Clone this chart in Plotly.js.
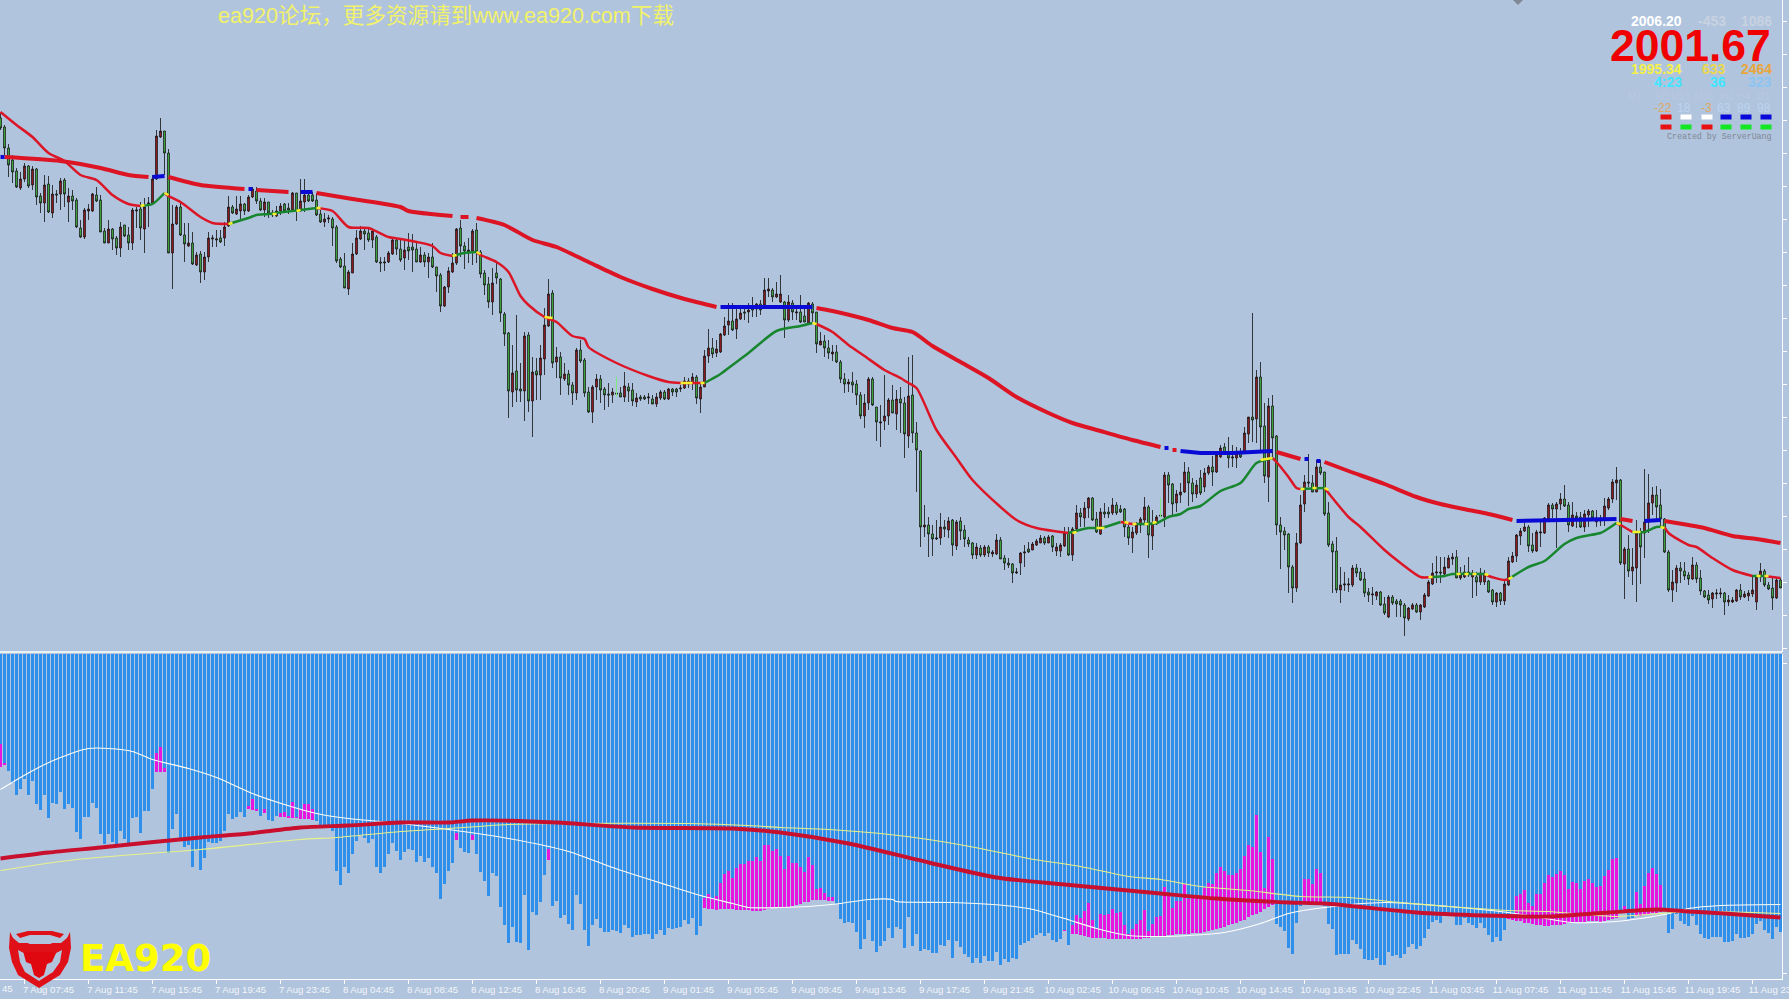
<!DOCTYPE html>
<html><head><meta charset="utf-8">
<script src="https://cdn.plot.ly/plotly-3.0.1.min.js"></script>
<style>html,body{margin:0;padding:0;background:#b0c4de;overflow:hidden}#c{width:1789px;height:999px}</style>
</head><body><div id="c"></div>
<script>
const open_ = [
582,573,552,540,529,512,521,534,515,531,
504,497,516,487,506,506,520,498,504,500,
472,463,489,489,505,500,469,457,471,462,
452,475,465,457,489,491,471,496,497,521,
563,569,547,447,476,493,465,454,457,435,
446,428,443,461,460,462,462,474,493,486,
489,496,489,503,509,499,490,498,487,484,
489,496,492,490,507,489,498,505,505,500,
486,478,481,481,473,441,434,411,427,446,
461,469,467,460,463,438,437,438,446,460,
451,442,453,453,451,438,445,438,443,433,
425,394,413,428,437,472,454,448,449,470,
448,427,416,398,427,421,386,367,308,329,
311,309,365,299,329,325,341,374,407,338,
343,321,326,315,307,350,340,308,288,313,
321,311,306,305,307,307,303,313,310,298,
303,303,302,301,296,302,308,301,311,311,
311,312,319,317,323,301,313,344,352,347,
348,365,375,379,371,381,388,388,392,391,
396,395,409,410,403,398,398,380,397,387,
388,384,377,396,388,355,359,352,346,348,
338,321,316,318,316,305,284,297,321,293,
277,279,284,300,286,301,297,264,305,267,
249,173,175,166,161,162,173,170,180,154,
179,170,160,157,145,152,145,153,146,146,
160,142,137,136,127,137,147,151,150,155,
157,162,157,164,149,149,154,167,145,171,
187,182,192,202,181,166,188,188,187,195,
191,191,173,162,167,175,180,193,164,176,
185,183,225,216,197,205,208,228,217,206,
222,213,227,233,228,243,253,247,242,242,
248,248,266,283,281,323,274,223,294,264,
175,169,166,133,112,157,196,218,217,208,
233,228,187,156,149,110,115,115,115,132,
128,121,108,105,104,108,96,83,103,99,
99,95,81,91,95,88,93,104,116,127,
128,126,132,141,143,122,123,128,123,123,
118,118,119,110,98,107,99,115,138,144,
164,169,173,155,149,167,167,181,195,191,
196,201,195,174,184,183,173,185,189,178,
182,180,192,201,217,220,136,151,129,132,
167,167,178,197,205,195,181,148,110,117,
132,129,125,121,135,122,109,105,101,106,
106,107,98,98,99,110,103,104,106,98,
123,129,115,112,102,120];
const high = [
587,575,556,545,532,528,537,535,534,532,
507,525,524,515,510,522,522,512,510,502,
480,492,496,507,513,505,472,480,472,464,
478,475,473,492,493,498,502,503,525,570,
582,569,551,495,495,497,477,477,468,448,
449,448,468,465,470,470,478,504,495,504,
504,497,505,513,513,502,502,498,490,494,
497,497,497,508,507,521,521,507,508,507,
490,487,485,483,475,443,447,430,457,470,
474,473,472,472,465,443,443,449,462,462,
460,461,467,466,458,453,448,447,457,433,
427,414,433,447,472,480,458,462,471,477,
450,430,423,432,437,422,388,368,355,385,
337,368,368,343,342,355,392,421,410,353,
348,337,330,318,352,360,342,313,315,326,
325,313,317,312,323,313,328,317,317,307,
305,305,307,305,307,310,310,312,312,312,
315,323,322,327,325,317,350,371,362,360,
367,383,397,397,392,395,392,397,403,397,
400,422,422,412,418,425,399,405,400,395,
405,395,398,398,388,368,365,360,355,355,
340,327,321,328,320,308,306,323,323,293,
295,325,302,315,310,313,303,343,345,278,
250,195,183,175,180,187,180,183,181,180,
183,175,163,158,157,155,155,155,150,166,
163,145,142,137,132,148,155,158,158,161,
165,164,165,165,157,157,173,173,173,195,
192,198,203,203,188,192,197,193,202,198,
195,192,175,173,178,183,203,195,190,185,
202,228,228,217,210,217,238,233,222,220,
230,232,235,244,247,255,257,263,255,253,
252,273,283,387,330,338,297,302,305,265,
183,173,167,135,167,205,225,246,225,240,
240,228,198,159,163,133,128,122,135,136,
132,128,112,113,109,109,103,105,105,101,
101,97,93,97,97,96,107,120,137,144,
143,143,145,147,150,133,135,143,130,128,
132,130,120,111,108,108,120,143,148,166,
172,177,175,167,170,178,183,197,197,198,
207,215,198,198,188,188,190,191,190,190,
185,202,203,221,233,221,153,165,152,180,
172,231,226,213,214,211,182,150,130,135,
138,138,128,143,138,130,110,110,108,111,
112,108,105,103,111,116,109,110,125,125,
137,131,118,122,122,122];
const low = [
570,545,523,517,512,510,518,512,510,495,
487,478,487,482,497,490,493,478,490,472,
462,461,480,488,498,468,457,457,450,445,
443,463,450,450,472,460,447,473,496,520,
562,525,447,411,475,464,438,453,435,434,
417,420,438,453,453,457,454,473,486,485,
480,485,488,502,496,489,483,482,483,483,
485,488,486,489,479,488,488,498,498,484,
477,473,477,454,437,432,412,405,427,445,
460,450,458,452,437,428,429,437,445,445,
438,430,440,428,438,437,433,422,432,408,
388,393,407,427,435,443,431,437,435,437,
422,405,392,385,416,378,354,282,293,298,
298,279,288,263,300,300,325,373,332,322,
305,319,305,295,300,337,303,287,277,300,
297,290,293,297,303,303,298,298,294,293,
299,300,296,296,293,300,300,300,304,303,
308,311,312,310,296,287,313,337,342,343,
347,364,365,369,361,380,380,377,383,383,
385,392,403,398,402,397,362,378,380,380,
377,378,377,378,347,355,343,341,339,337,
317,307,308,307,295,281,272,290,294,259,
253,270,275,287,270,267,242,252,257,208,
153,163,143,144,160,155,163,162,144,150,
160,153,153,141,141,143,143,143,143,145,
141,130,132,117,126,125,133,147,150,154,
157,155,157,148,144,143,153,144,139,170,
173,173,182,179,167,165,182,182,185,185,
187,163,155,147,165,167,175,142,150,175,
182,173,197,185,188,197,207,194,198,202,
205,208,225,214,227,242,245,232,233,232,
242,247,257,258,257,247,217,198,243,165,
131,150,107,97,108,156,188,213,208,208,
225,184,153,107,107,97,109,108,113,123,
119,103,98,95,100,94,85,82,95,83,
83,64,79,90,87,80,92,103,115,117,
117,125,132,135,122,120,122,123,102,104,
115,115,107,95,93,95,95,114,137,138,
155,168,148,147,148,153,166,180,182,152,
190,193,168,173,172,172,168,173,180,173,
174,174,190,197,200,135,101,123,115,98,
116,142,167,185,180,172,147,108,98,108,
117,120,115,120,117,105,102,96,92,101,
102,85,94,97,98,100,102,99,103,90,
118,113,110,90,101,112];
const close_ = [
572,552,535,528,513,521,534,514,531,503,
497,515,488,506,505,519,506,504,499,473,
463,490,491,506,499,468,457,471,461,452,
473,464,457,490,490,472,493,497,521,564,
569,547,447,476,493,465,456,457,436,445,
428,443,462,462,461,458,473,493,487,491,
496,489,503,511,499,490,498,487,485,489,
494,489,490,507,489,499,505,499,499,485,
478,481,482,472,439,433,412,428,446,462,
469,466,460,469,438,437,438,447,460,451,
440,450,449,450,438,445,438,443,433,424,
394,413,429,437,471,454,449,450,469,448,
426,415,398,417,422,387,366,309,327,310,
309,364,299,328,325,342,375,406,337,343,
322,326,315,307,350,339,307,288,313,321,
310,305,305,308,306,303,314,309,299,302,
301,301,303,296,303,308,301,311,308,308,
312,319,316,323,302,313,344,352,346,351,
366,374,379,370,381,387,387,390,390,396,
390,410,411,403,406,406,380,398,388,388,
378,378,397,387,356,359,352,347,348,338,
321,316,318,315,305,284,297,321,295,278,
278,284,300,287,301,297,266,304,267,250,
173,175,166,161,162,173,171,179,155,178,
169,161,156,145,153,145,153,147,148,160,
141,137,135,127,128,147,148,148,156,159,
162,157,163,153,153,155,167,145,171,187,
183,192,202,180,168,188,186,186,195,187,
188,173,162,168,175,181,193,165,177,183,
184,225,215,196,206,208,228,217,206,215,
207,227,233,228,245,252,247,242,243,247,
243,267,283,280,323,273,224,294,262,175,
168,165,133,112,157,195,218,217,208,233,
227,186,155,148,110,115,116,116,132,127,
120,107,105,106,108,95,87,103,97,96,
95,82,92,95,88,95,105,118,127,128,
127,133,142,143,122,125,128,125,127,118,
127,127,108,98,107,99,116,139,144,165,
169,173,154,149,168,168,182,195,191,196,
201,194,175,185,182,173,186,189,182,182,
179,194,201,218,220,137,151,129,133,167,
153,178,197,205,193,181,148,110,118,132,
129,124,121,135,121,109,103,100,107,107,
107,98,100,100,110,103,106,107,110,123,
129,115,111,102,120,112];

const slowRedX = [1,15,25,32,37,null,42,50,61,null,64,72,null,79,88,100,102,113,null,115,117,null,119,126,133,139,147,155,163,171,179,null,204,208,217,223,228,233,240,247,254,262,268,275,283,290,null,293,294,null,319,325,null,331,337,346,354,360,367,372,378,null,405,408,null,416,422,426,433,439,445];
const slowRedY = [543,539,532,525,523,null,523,515,511,null,510,508,null,507,501,493,489,484,null,483,483,null,482,475,460,453,438,423,411,401,393,null,392,389,380,372,368,354,338,322,303,287,277,269,260,253,null,250,250,null,248,241,null,238,229,216,203,196,190,186,180,null,181,179,null,179,175,172,164,161,157];
const slowBlueX = [0,1,null,38,41,null,62,63,null,75,78,null,180,203,null,291,292,null,295,300,308,313,318,null,326,327,null,329,330,null,379,404,null,411,415];
const slowBlueY = [543,543,null,523,524,null,511,511,null,508,508,null,393,393,null,252,252,null,249,247,247,248,249,null,241,241,null,239,239,null,179,181,null,179,180];
const fastRedX = [0,4,8,12,16,20,24,28,32,35,null,41,42,45,50,53,57,null,79,83,87,92,97,100,108,110,113,null,119,120,124,127,130,132,136,139,143,146,147,154,162,167,170,176,null,204,208,212,216,221,225,227,229,234,239,243,250,254,259,267,null,280,283,284,null,318,319,322,324,325,null,331,333,337,340,346,350,355,358,null,371,372,376,377,null,404,405,408,null,416,417,422,424,428,433,438,null,441,445];
const fastRedY = [588,575,563,547,539,525,520,505,496,494,null,507,504,498,483,477,476,null,492,489,473,472,463,461,454,447,444,null,448,445,438,428,404,395,383,378,364,361,353,337,324,318,317,317,null,376,368,355,344,330,322,317,312,270,242,220,193,180,172,167,null,178,176,176,null,242,238,223,212,211,null,212,202,183,173,150,137,123,123,null,126,124,120,121,null,177,175,168,null,173,167,155,153,142,130,124,null,124,122];
const fastGreenX = [35,38,41,null,57,62,64,67,73,79,null,113,116,119,null,176,180,183,187,194,200,203,null,267,272,275,280,null,284,289,292,295,297,300,305,310,314,318,null,325,331,null,358,361,363,371,null,377,382,386,391,394,400,401,404,null,408,411,414,416,null,438,441];
const fastGreenY = [494,496,507,null,476,482,485,486,489,492,null,444,447,448,null,317,326,335,347,369,374,377,null,167,172,172,178,null,176,177,183,186,191,194,209,217,237,242,null,211,212,null,123,124,126,126,null,121,133,139,156,162,167,169,177,null,168,168,173,173,null,124,124];
const fastYellowX = [35,36,null,41,42,null,57,58,null,68,69,null,74,75,null,79,80,null,113,114,null,119,120,null,136,138,null,170,173,null,175,176,null,203,204,null,268,269,null,274,276,null,281,282,null,283,284,null,286,287,null,288,289,null,315,318,null,325,326,null,328,329,null,331,332,null,357,358,null,364,365,null,366,367,null,368,369,null,371,372,null,377,378,null,404,405,null,408,410,null,415,416,null,439,440,null,441,442];
const fastYellowY = [494,495,null,507,505,null,476,477,null,486,486,null,489,490,null,492,492,null,444,445,null,448,446,null,383,382,null,317,317,null,317,317,null,377,376,null,167,168,null,172,172,null,178,177,null,176,176,null,176,176,null,177,178,null,240,242,null,211,211,null,212,212,null,212,210,null,123,123,null,126,126,null,126,126,null,126,126,null,126,125,null,121,123,null,177,176,null,168,168,null,173,172,null,124,124,null,124,124];
const flashX = [154,154,null,290,290];
const flashY = [323,303,null,202,182];

const histDepth = [
90,109,117,129,141,135,125,141,127,150,
156,141,164,149,150,138,155,150,154,178,
185,163,163,149,154,180,190,180,188,192,
177,185,190,164,163,179,157,157,135,99,
93,114,199,175,160,185,193,191,213,196,
216,204,188,189,189,187,177,160,165,163,
158,163,152,145,155,162,155,166,167,162,
159,158,162,148,163,155,150,150,155,167,
171,171,171,177,217,231,213,219,200,187,
182,184,189,185,213,219,213,200,189,197,
206,198,195,196,208,202,208,204,213,219,
245,230,217,209,179,194,198,199,181,200,
218,227,242,219,222,253,271,289,273,288,
289,241,296,258,261,248,221,195,252,247,
264,261,270,276,241,250,276,292,271,265,
274,278,278,276,277,279,271,274,283,281,
281,280,280,285,280,276,281,274,275,274,
273,266,270,264,281,272,244,240,244,242,
229,220,217,224,214,210,210,207,207,203,
207,191,191,197,195,202,215,202,209,209,
213,218,203,211,235,234,239,243,243,250,
265,269,268,269,278,295,285,266,287,298,
292,287,274,284,273,275,294,263,292,280,
297,295,296,299,299,291,292,286,304,287,
293,300,303,309,304,309,302,307,307,298,
311,305,308,304,305,291,289,287,284,281,
279,282,279,286,288,285,276,291,271,261,
264,257,249,266,274,260,261,260,255,259,
258,271,280,275,270,266,256,277,270,263,
262,233,242,254,247,247,230,245,242,242,
242,234,229,230,219,213,217,221,221,219,
215,202,191,193,161,198,234,183,205,270,
273,277,294,300,269,252,225,225,230,215,
219,252,270,275,301,300,300,300,286,290,
295,305,306,306,304,311,311,298,302,301,
304,300,293,290,295,292,284,275,268,266,
269,260,260,259,271,271,264,269,271,274,
269,274,281,288,283,287,276,260,260,242,
240,236,249,252,240,240,229,221,223,220,
217,221,235,228,229,235,227,225,229,233,
232,222,216,205,204,259,252,265,264,238,
250,232,219,214,220,231,254,279,275,260,
267,270,272,262,271,280,284,285,283,283,
283,288,288,287,280,284,284,283,280,270,
267,276,279,285,273,278];
const magentaIdx = [0,1,39,40,41,62,63,64,66,70,71,72,73,74,75,76,77,78,114,118,137,
176,177,178,179,180,181,182,183,184,185,186,187,188,189,190,191,192,193,194,195,196,197,198,199,200,201,202,203,204,205,206,207,208,
266,268,269,270,271,272,273,274,275,276,277,278,279,280,281,282,283,284,285,286,287,288,289,290,291,292,293,294,295,296,297,298,299,300,301,302,303,304,305,306,307,308,309,310,311,312,313,314,315,316,317,318,
326,327,328,329,330,363,377,378,379,380,381,382,383,384,385,386,387,388,389,390,391,392,393,394,395,396,397,398,399,400,401,402,403,404,406,409,410,411,412,413,414,415,416];
const magentaBottom = [113,111,118,118,118,155,156,157,159,163,163,164,164,164,165,165,165,166,186,186,206,
254,255,255,256,255,255,255,255,256,256,256,256,257,257,257,256,255,254,254,254,254,253,252,251,250,248,248,246,246,246,246,247,247,
277,280,280,281,282,283,284,284,284,284,285,285,285,285,285,285,285,285,285,284,284,283,283,283,282,281,281,280,280,280,280,279,279,279,278,277,276,275,274,273,271,270,269,267,266,263,261,260,258,255,253,251,
249,249,249,249,249,262,265,266,267,267,269,269,270,271,271,272,272,271,271,271,270,269,268,268,268,268,267,267,267,268,267,266,265,264,259,262,262,261,260,259,259,258,256];

const whiteX = [0,5,10,15,22,27,33,38,47,54,63,71,79,87,100,112,127,142,153,167,175,183,187,195,202,210,217,223,224,238,248,257,266,274,282,290,297,306,315,322,331,346,362,377,385,393,404,410,416,422,430,445];
const whiteY = [136,124,113,104,95,95,98,106,115,124,140,151,160,165,170,176,185,198,214,232,242,250,254,254,253,250,246,246,248,249,251,255,265,275,282,283,282,279,270,260,254,249,253,259,264,269,268,265,261,255,252,251];
const paleX = [0,19,50,75,84,100,112,127,140,172,187,195,207,220,232,245,257,270,282,290,300,312,325,337,350,362,377,387,404,418,427,445];
const paleY = [217,206,196,186,184,178,175,171,170,170,172,174,176,180,186,195,205,213,223,226,233,237,243,244,249,253,257,258,263,259,258,260];
const signalX = [0,12,25,37,50,62,75,87,100,112,118,139,158,183,195,212,232,249,266,290,304,322,331,354,371,387,402,414,422,431,445];
const signalY = [205,199,194,189,184,180,174,172,169,169,167,169,174,175,179,190,209,224,231,240,245,249,250,259,262,263,259,256,258,260,264];

const timeTicks = [6,22,38,54,70,86,102,118,134,150,166,182,198,214,230,246,262,278,294,310,326,342,358,374,390,406,422,438];
const timeLabels = ["7 Aug 07:45","7 Aug 11:45","7 Aug 15:45","7 Aug 19:45","7 Aug 23:45","8 Aug 04:45","8 Aug 08:45","8 Aug 12:45","8 Aug 16:45","8 Aug 20:45","9 Aug 01:45","9 Aug 05:45","9 Aug 09:45","9 Aug 13:45","9 Aug 17:45","9 Aug 21:45","10 Aug 02:45","10 Aug 06:45","10 Aug 10:45","10 Aug 14:45","10 Aug 18:45","10 Aug 22:45","11 Aug 03:45","11 Aug 07:45","11 Aug 11:45","11 Aug 15:45","11 Aug 19:45","11 Aug 23:45"];
const priceTicks = [679,646,613,580,547,514,481,448,415,382,349,316,283,250,217,184,151,118,85,52];
const depthTicks = [10,320];

const PW = 1782, PH = 979;
const fx = p => p / PW, fy = p => (PH - p) / PH;
const idx = open_.map((_, i) => i);
const uiFont = '"Liberation Sans", "Noto Sans CJK SC", sans-serif';
const line = (x, y, color, width, yaxis, smooth) => ({type:'scatter', mode:'lines', x, y, yaxis, connectgaps:false, hoverinfo:'skip',
  line: smooth ? {color, width, shape:'spline', smoothing:0.7} : {color, width, simplify:false}});

const traces = [
 {type:'bar', x:idx, y:histDepth, yaxis:'y2', width:0.75, marker:{color:'#2e90ea', line:{width:0}}, hoverinfo:'skip'},
 {type:'bar', x:magentaIdx, base:magentaIdx.map(i=>histDepth[i]), y:magentaIdx.map((i,k)=>magentaBottom[k]-histDepth[i]), yaxis:'y2', width:0.75, marker:{color:'#e615e0', line:{width:0}}, hoverinfo:'skip'},
 line(whiteX, whiteY, '#ffffff', 1.1, 'y2', true),
 line(paleX, paleY, '#e8f28a', 1.1, 'y2', true),
 line(signalX, signalY, '#c8102e', 3.9, 'y2', true),
 {type:'candlestick', x:idx, open:open_, high, low, close:close_, yaxis:'y', xaxis:'x', whiskerwidth:0, hoverinfo:'skip',
  increasing:{line:{color:'#111111', width:0.8}, fillcolor:'#a01c24'},
  decreasing:{line:{color:'#111111', width:0.8}, fillcolor:'#46b842'}},
 line(flashX, flashY, '#7fe87f', 1, 'y'),
 line(slowRedX, slowRedY, '#dc1424', 4, 'y', true),
 line(slowBlueX, slowBlueY, '#0a0ad6', 4, 'y'),
 line(fastRedX, fastRedY, '#dc1626', 2.5, 'y', true),
 line(fastGreenX, fastGreenY, '#18862e', 2.5, 'y', true),
 line(fastYellowX, fastYellowY, '#f8f02c', 2.5, 'y')
];

const rt = (text, px, py, color, size, extra) => Object.assign({text, xref:'paper', yref:'paper', x:fx(px), y:fy(py), xanchor:'right', yanchor:'middle', showarrow:false, font:{family:uiFont, size, color}}, extra||{});
const bold = t => '<b>'+t+'</b>';
const annotations = [
 rt('ea920论坛，更多资源请到www.ea920.com下载', 216, 16, '#f2f26a', 21.6, {xanchor:'left'}),
 rt(bold('2006.20'), 1684, 21, '#ffffff', 14),
 rt(bold('-453'), 1728, 21, '#c8d2e0', 14),
 rt(bold('1086'), 1774, 21, '#c8d2e0', 14),
 rt(bold('2001.67'), 1773, 45, '#f00000', 44.5),
 rt(bold('1995.34'), 1684, 69, '#f5f04a', 14),
 rt(bold('633'), 1728, 69, '#ecd84c', 14),
 rt(bold('2464'), 1774, 69, '#e8a63a', 14),
 rt(bold('4:23'), 1684, 82, '#3fe6ff', 14),
 rt(bold('36'), 1728, 82, '#3fe6ff', 14),
 rt(bold('323'), 1774, 82, '#8cc4f2', 14),
 rt('M1', 1644, 97, '#b8c8de', 10), rt('M5', 1672, 97, '#b8c8de', 10), rt('M15', 1693, 97, '#b8c8de', 10),
 rt('M30', 1716, 97, '#b8c8de', 10), rt('H1', 1736, 97, '#b8c8de', 10), rt('H4', 1752, 97, '#b8c8de', 10), rt('D1', 1772, 97, '#b8c8de', 10),
 rt('-22', 1674, 108, '#e0a860', 12), rt('18', 1693, 108, '#bcd4ee', 12), rt('-3', 1714, 108, '#e0a860', 12),
 rt('63', 1733, 108, '#bcd4ee', 12), rt('89', 1753, 108, '#bcd4ee', 12), rt('98', 1773, 108, '#bcd4ee', 12),
 rt('Created by ServerUang', 1774, 136, '#7f8894', 8.3, {font:{family:'"Liberation Mono", monospace', size:8.3, color:'#7f8894'}}),
 rt(bold('EA920'), 78, 958, '#ffff00', 37, {xanchor:'left', font:{family:'"DejaVu Sans", sans-serif', size:37, color:'#ffff00'}}),
 rt('45', 0, 988, '#f4f6fa', 9.6, {xanchor:'left'})
];

const box = (cx, cy, w, h, color) => ({type:'rect', xref:'paper', yref:'paper', x0:fx(cx-w/2), x1:fx(cx+w/2), y0:fy(cy-h/2), y1:fy(cy+h/2), fillcolor:color, line:{width:0}});
const poly = (pts, color, lw, lc) => ({type:'path', xref:'paper', yref:'paper', layer:'above',
  path:'M '+pts.map(p=>fx(p[0])+' '+fy(p[1])).join(' L ')+' Z', fillcolor:color, line:{width:lw||0, color:lc||color}});
const statusTop = ['#e81010','#ffffff','#ffffff','#0808d8','#0808d8','#0808d8'];
const statusBot = ['#e81010','#10e820','#e81010','#10e820','#10e820','#10e820'];
const statusX = [1666,1686,1707,1726,1746,1766];
const shapes = [
 {type:'line', xref:'paper', yref:'paper', x0:0, x1:1, y0:fy(652), y1:fy(652), line:{color:'#ffffff', width:1.4}},
 poly([[1513,0],[1523,0],[1518,5]], '#7f8894'),
 ...statusX.map((x,i)=>box(x,117,11,5,statusTop[i])),
 ...statusX.map((x,i)=>box(x,127,11,5,statusBot[i])),
 poly([[10,932],[13,938],[19,943],[61,943],[67,938],[70,932],[71,948],[68,962],[60,975],[39,988],[18,975],[12,962],[9,948]], '#e01018'),
 poly([[18,950],[28,955],[52,955],[62,950],[60,962],[53,972],[39,981],[25,972],[20,962]], '#b0c4de'),
 poly([[23,951],[57,951],[52,962],[47,964],[44,975],[39,978],[34,975],[31,964],[26,962]], '#e00810'),
 poly([[16,934],[28,931],[52,931],[64,934],[60,938],[50,935],[30,935],[20,938]], '#e01018'),
 poly([[20,940],[30,936],[50,936],[60,940],[50,944],[30,944]], '#b0c4de'),
 poly([[14,944],[24,948],[56,948],[66,944],[58,952],[22,952]], '#e01018')
];

const layout = {
 width:1789, height:999, showlegend:false, hovermode:false, barmode:'overlay', bargap:0, boxgap:0.35,
 paper_bgcolor:'#b0c4de', plot_bgcolor:'#b0c4de',
 margin:{l:0, r:7, t:0, b:20, pad:0},
 font:{family:uiFont},
 xaxis:{range:[-0.125,445.375], anchor:'y2', type:'linear', showgrid:false, zeroline:false, showline:true, linecolor:'#ffffff', linewidth:1,
   rangeslider:{visible:false}, tickmode:'array', tickvals:timeTicks, ticktext:timeLabels, ticks:'outside', ticklen:4, tickcolor:'#ffffff', tickwidth:1,
   tickangle:0, ticklabelshift:24, ticklabelstandoff:-3, ticklabeloverflow:'allow', tickfont:{family:uiFont, size:9.6, color:'#f4f6fa'}},
 yaxis:{domain:[(PH-652)/PH,1], range:[48,700], side:'right', anchor:'x', showgrid:false, zeroline:false, showline:true, linecolor:'#ffffff', linewidth:1,
   tickmode:'array', tickvals:priceTicks, ticktext:priceTicks.map(()=>''), ticks:'outside', ticklen:4, tickcolor:'#ffffff'},
 yaxis2:{domain:[0,(PH-653.5)/PH], range:[325.5,0], side:'right', anchor:'x', showgrid:false, zeroline:false, showline:true, linecolor:'#ffffff', linewidth:1,
   tickmode:'array', tickvals:depthTicks, ticktext:depthTicks.map(()=>''), ticks:'outside', ticklen:4, tickcolor:'#ffffff'},
 annotations, shapes
};
Plotly.newPlot('c', traces, layout, {staticPlot:true, displayModeBar:false});
</script></body></html>
